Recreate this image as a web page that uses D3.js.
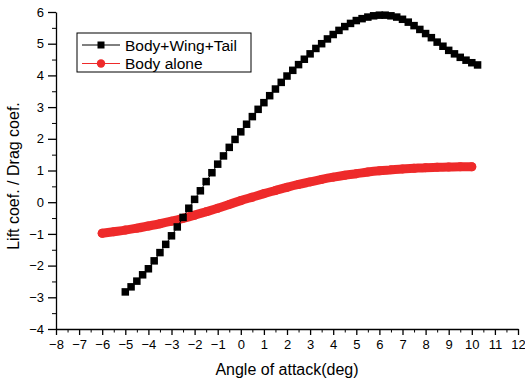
<!DOCTYPE html>
<html>
<head>
<meta charset="utf-8">
<script src="https://cdn.jsdelivr.net/npm/d3@7"></script>
<style>
  body { margin: 0; background: #fff; }
  svg text { font-family: "Liberation Sans", Arial, sans-serif; fill: #000; }
</style>
</head>
<body>
<svg id="chart" width="525" height="382"></svg>
<script>
// Body+Wing+Tail, every 0.25 deg from -5 to 10.25
const bwtAngles = d3.range(62).map(i => -5 + i * 0.25);
const bwtValues = [
  -2.83, -2.67, -2.49, -2.29, -2.10, -1.85, -1.59, -1.33, -1.06, -0.78,
  -0.48, -0.19, 0.09, 0.36, 0.65, 0.93, 1.20, 1.46, 1.73, 1.98,
  2.22, 2.46, 2.70, 2.93, 3.14, 3.36, 3.57, 3.78, 3.98, 4.16,
  4.34, 4.51, 4.68, 4.85, 5.00, 5.15, 5.29, 5.42, 5.54, 5.64,
  5.73, 5.79, 5.84, 5.88, 5.90, 5.90, 5.88, 5.84, 5.77, 5.68,
  5.57, 5.45, 5.32, 5.19, 5.05, 4.92, 4.79, 4.68, 4.57, 4.48,
  4.40, 4.33
];
// Body alone, every 0.5 deg from -6 to 10
const bodyAngles = d3.range(33).map(i => -6 + i * 0.5);
const bodyValues = [
  -0.98, -0.93, -0.88, -0.82, -0.75, -0.68, -0.60, -0.51, -0.41, -0.30,
  -0.19, -0.07, 0.05, 0.16, 0.27, 0.37, 0.47, 0.56, 0.64, 0.72,
  0.79, 0.85, 0.90, 0.95, 0.99, 1.02, 1.05, 1.07, 1.09, 1.10,
  1.11, 1.12, 1.12
];
const xTicks = d3.range(-8, 13, 1);
const yTicks = d3.range(-4, 7, 1);
const seriesNames = ["Body+Wing+Tail", "Body alone"];

const RED = "#ee2a2a";
const svg = d3.select("#chart");
const x = d3.scaleLinear().domain([-8, 12]).range([56, 518]);
const y = d3.scaleLinear().domain([-4, 6]).range([329, 12]);

// minor ticks first, then major
svg.append("g").attr("transform", "translate(0,329)")
  .call(d3.axisBottom(x).tickValues(d3.range(-7.5, 12, 1)).tickSize(3.5).tickFormat(""))
  .call(g => g.select(".domain").remove());
svg.append("g").attr("transform", "translate(56,0)")
  .call(d3.axisLeft(y).tickValues(d3.range(-3.5, 6, 1)).tickSize(4).tickFormat(""))
  .call(g => g.select(".domain").remove());

const xAxis = svg.append("g").attr("transform", "translate(0,329)")
  .call(d3.axisBottom(x).tickValues(xTicks).tickSize(6).tickSizeOuter(0).tickPadding(5));
const yAxis = svg.append("g").attr("transform", "translate(56,0)")
  .call(d3.axisLeft(y).tickValues(yTicks).tickSize(8).tickSizeOuter(0).tickPadding(4));
[xAxis, yAxis].forEach(a => {
  a.selectAll("text").style("font-size", "13px").style("font-family", "Liberation Sans, Arial, sans-serif");
  a.selectAll("line, path").attr("stroke", "#000").attr("stroke-width", 1.3);
});

svg.append("text").attr("x", 287).attr("y", 375).attr("text-anchor", "middle")
  .style("font-size", "16px").text("Angle of attack(deg)");
svg.append("text").attr("transform", "translate(19,176) rotate(-90)").attr("text-anchor", "middle")
  .style("font-size", "16px").text("Lift coef. / Drag coef.");

// Body alone: thick red line of overlapping dots
const bodyPts = bodyAngles.map((a, i) => [a, bodyValues[i]]);
svg.append("path").datum(bodyPts)
  .attr("fill", "none").attr("stroke", RED).attr("stroke-width", 9)
  .attr("stroke-linecap", "round").attr("stroke-linejoin", "round")
  .attr("d", d3.line().x(d => x(d[0])).y(d => y(d[1])).curve(d3.curveMonotoneX));
svg.append("g").selectAll("circle").data(bodyPts).join("circle")
  .attr("cx", d => x(d[0])).attr("cy", d => y(d[1])).attr("r", 4.5).attr("fill", RED);

// Body+Wing+Tail: black squares
const bwtPts = bwtAngles.map((a, i) => [a, bwtValues[i]]);
svg.append("path").datum(bwtPts)
  .attr("fill", "none").attr("stroke", "#000").attr("stroke-width", 1)
  .attr("d", d3.line().x(d => x(d[0])).y(d => y(d[1])));
const sq = 7.5;
svg.append("g").selectAll("rect").data(bwtPts).join("rect")
  .attr("x", d => x(d[0]) - sq / 2).attr("y", d => y(d[1]) - sq / 2)
  .attr("width", sq).attr("height", sq).attr("fill", "#000");

// legend
const lg = svg.append("g");
lg.append("rect").attr("x", 77).attr("y", 33).attr("width", 174).attr("height", 39)
  .attr("fill", "#fff").attr("stroke", "#000").attr("stroke-width", 1);
[0, 1].forEach(i => {
  const ly = 45 + i * 18.5;
  lg.append("line").attr("x1", 82).attr("x2", 120).attr("y1", ly).attr("y2", ly)
    .attr("stroke", i === 0 ? "#000" : RED).attr("stroke-width", 1);
  if (i === 0) {
    lg.append("rect").attr("x", 101 - 3.5).attr("y", ly - 3.5).attr("width", 7).attr("height", 7).attr("fill", "#000");
  } else {
    lg.append("circle").attr("cx", 101).attr("cy", ly).attr("r", 4.2).attr("fill", RED);
  }
  lg.append("text").attr("x", 125).attr("y", ly + 5.5).style("font-size", "15.5px").text(seriesNames[i]);
});
</script>
</body>
</html>
